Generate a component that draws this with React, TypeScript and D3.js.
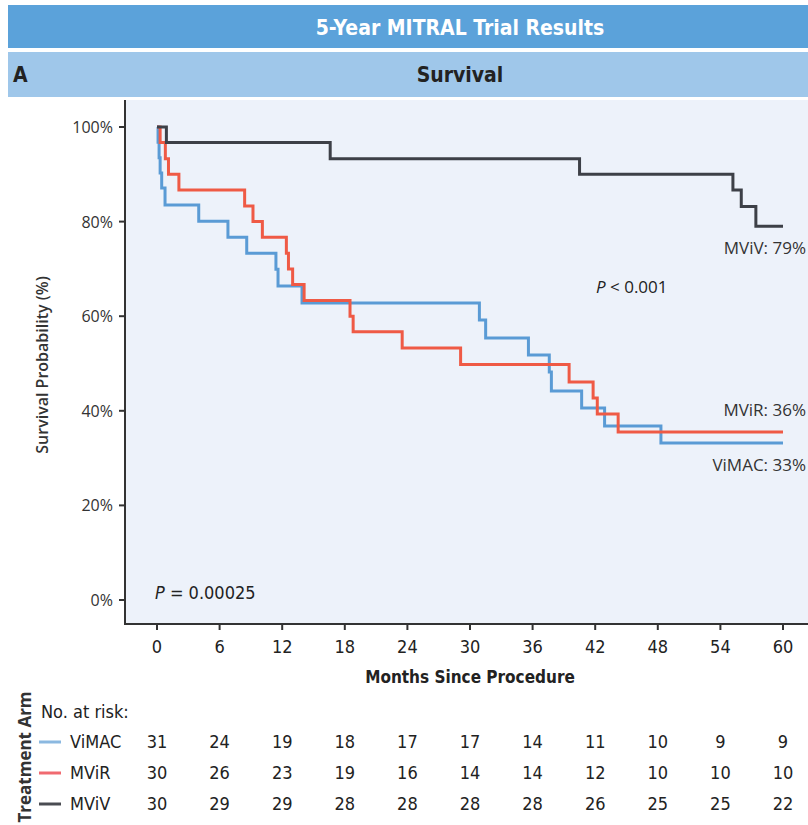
import React from "react";
import * as d3 from "d3";

// Kaplan-Meier curves: [month, survival %]
const vimac = [
  [0, 100], [0.1, 96.8], [0.2, 93.5], [0.3, 90.3], [0.45, 87.1], [0.77, 83.5],
  [4.0, 80.1], [6.8, 76.7], [8.6, 73.3], [11.4, 69.9], [11.6, 66.4], [13.9, 62.8],
  [30.9, 59.2], [31.5, 55.4], [35.6, 51.8], [37.6, 48.2], [37.8, 44.2], [40.7, 40.6],
  [42.9, 36.8], [48.3, 33.2], [60, 33.2],
];
const mvir = [
  [0, 100], [0.3, 96.7], [0.8, 93.3], [1.1, 90], [2.1, 86.7], [8.4, 83.3],
  [9.2, 80], [10.1, 76.7], [12.4, 73.3], [12.6, 70], [13.0, 66.7], [14.1, 63.3],
  [18.5, 60.0], [18.8, 56.7], [23.5, 53.3], [29.1, 49.8], [39.5, 46.1], [41.8, 42.7],
  [42.2, 39.3], [44.2, 35.5], [60, 35.5],
];
const mviv = [
  [0, 100], [0.9, 96.7], [16.6, 93.3], [40.5, 90.0], [55.2, 86.7], [56, 83.2],
  [57.4, 79.0], [60, 79],
];

const months = [0, 6, 12, 18, 24, 30, 36, 42, 48, 54, 60];
const yTicks = [0, 20, 40, 60, 80, 100];

const armNames = ["ViMAC", "MViR", "MViV"];
const armColors = ["#5a9bd5", "#ef5a45", "#3d4047"];
const legendColors = ["#8bb8e0", "#f06a70", "#4a4c52"];
const endLabels = ["ViMAC: 33%", "MViR: 36%", "MViV: 79%"];

const riskVimac = [31, 24, 19, 18, 17, 17, 14, 11, 10, 9, 9];
const riskMvir = [30, 26, 23, 19, 16, 14, 14, 12, 10, 10, 10];
const riskMviv = [30, 29, 29, 28, 28, 28, 28, 26, 25, 25, 22];

const narrow = "'Liberation Sans Narrow', 'DejaVu Sans Condensed', sans-serif";
const sans = "'Open Sans', 'Noto Sans', sans-serif";

export default function App() {
  const W = 808;
  const H = 825;
  const x = d3.scaleLinear().domain([0, 60]).range([157, 783]);
  const y = d3.scaleLinear().domain([0, 100]).range([600, 127]);

  const line = d3
    .line<number[]>()
    .x((d) => x(d[0]))
    .y((d) => y(d[1]))
    .curve(d3.curveStepAfter);

  const curves = [vimac, mvir, mviv];
  const risk = [riskVimac, riskMvir, riskMviv];
  const rowY = [748, 779, 810];

  return (
    <svg
      width={W}
      height={H}
      style={{ position: "absolute", left: 0, top: 0, display: "block", background: "#fff" }}
    >
      {/* header bars */}
      <rect x={8} y={5} width={W - 8} height={43} fill="#5ba2da" />
      <text x={460} y={35} textAnchor="middle" fill="#fff" fontFamily={narrow} fontWeight="bold" fontSize={21}>
        5-Year MITRAL Trial Results
      </text>
      <rect x={8} y={52} width={W - 8} height={45} fill="#9fc7ea" />
      <text x={13} y={82} fill="#222" fontFamily={narrow} fontWeight="bold" fontSize={21}>A</text>
      <text x={460} y={82} textAnchor="middle" fill="#222" fontFamily={narrow} fontWeight="bold" fontSize={21}>
        Survival
      </text>

      {/* plot background */}
      <rect x={125} y={100} width={W - 125} height={524} fill="#edf2fa" />

      {/* axes */}
      <line x1={125} x2={125} y1={100} y2={624} stroke="#333" strokeWidth={2} />
      <line x1={124} x2={W} y1={624} y2={624} stroke="#333" strokeWidth={2} />
      {yTicks.map((t) => (
        <g key={t}>
          <line x1={119} x2={125} y1={y(t)} y2={y(t)} stroke="#333" strokeWidth={2} />
          <text x={113} y={y(t) + 6} textAnchor="end" fontFamily={sans} fontSize={16} fill="#333">
            {t}%
          </text>
        </g>
      ))}
      {months.map((m) => (
        <g key={m}>
          <line x1={x(m)} x2={x(m)} y1={624} y2={630} stroke="#333" strokeWidth={2} />
          <text x={x(m)} y={653} textAnchor="middle" fontFamily={narrow} fontSize={18} fill="#222">
            {m}
          </text>
        </g>
      ))}
      <text x={470} y={683} textAnchor="middle" fontFamily={narrow} fontWeight="bold" fontSize={17} fill="#222">
        Months Since Procedure
      </text>
      <text
        transform={`translate(48,365) rotate(-90)`}
        textAnchor="middle"
        fontFamily={sans}
        fontWeight={600}
        fontSize={16}
        fill="#333"
      >
        Survival Probability (%)
      </text>

      {/* curves */}
      {curves.map((c, i) => (
        <path key={i} d={line(c) || ""} fill="none" stroke={armColors[i]} strokeWidth={3} />
      ))}

      {/* annotations */}
      <text x={806} y={254} textAnchor="end" fontFamily={sans} fontSize={17} fill="#333">{endLabels[2]}</text>
      <text x={806} y={416} textAnchor="end" fontFamily={sans} fontSize={17} fill="#333">{endLabels[1]}</text>
      <text x={806} y={471} textAnchor="end" fontFamily={sans} fontSize={17} fill="#333">{endLabels[0]}</text>
      <text x={596} y={293} fontFamily={sans} fontSize={17} fill="#222">
        <tspan fontStyle="italic">P</tspan> &lt; 0.001
      </text>
      <text x={155} y={599} fontFamily={narrow} fontSize={18} fill="#222">
        <tspan fontStyle="italic">P</tspan> = 0.00025
      </text>

      {/* number at risk */}
      <text
        transform={`translate(31,757) rotate(-90)`}
        textAnchor="middle"
        fontFamily={sans}
        fontWeight="bold"
        fontSize={17}
        fill="#333"
      >
        Treatment Arm
      </text>
      <text x={41} y={718} fontFamily={narrow} fontSize={18} fill="#222">No. at risk:</text>
      {armNames.map((name, i) => (
        <g key={name}>
          <line x1={39} x2={61} y1={rowY[i] - 6} y2={rowY[i] - 6} stroke={legendColors[i]} strokeWidth={3} />
          <text x={70} y={rowY[i]} fontFamily={narrow} fontSize={18} fill="#222">{name}</text>
          {risk[i].map((v, j) => (
            <text key={j} x={x(months[j])} y={rowY[i]} textAnchor="middle" fontFamily={narrow} fontSize={18} fill="#222">
              {v}
            </text>
          ))}
        </g>
      ))}
    </svg>
  );
}
